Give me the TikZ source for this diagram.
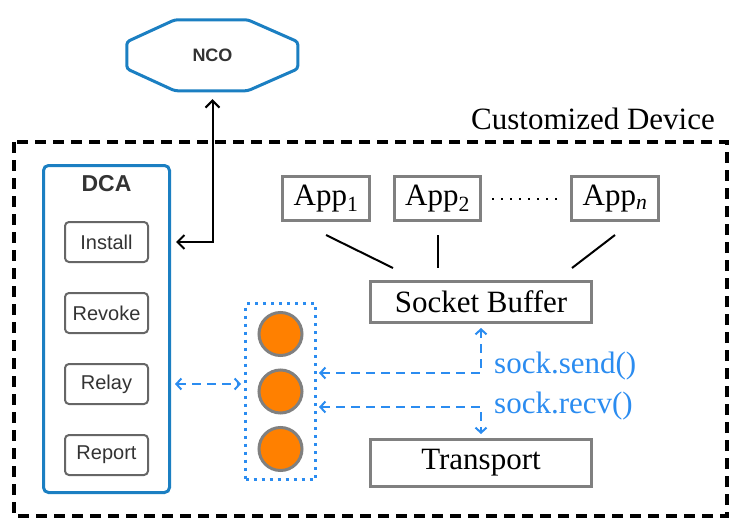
\documentclass[tikz,border=0pt]{standalone}
\usepackage{fontspec}
\setmainfont{Liberation Serif}
\setsansfont{Liberation Sans}
\usetikzlibrary{%
  arrows.meta,%
  positioning%
}
\definecolor{ncoblue}{HTML}{1B7FC2}
\definecolor{linkblue}{HTML}{2B8CF0}
\definecolor{framegray}{HTML}{808080}
\definecolor{subgray}{HTML}{666666}
\definecolor{labelgray}{HTML}{333333}
\definecolor{ballorange}{HTML}{FF8000}
\tikzset{>={Straight Barb[length=7pt,width=14pt]}}

\begin{document}
\begin{tikzpicture}[x=1pt,y=-1pt,
    font=\fontsize{31}{36}\selectfont,
    appbox/.style={draw=framegray,line width=3pt,minimum height=44pt,
      inner xsep=11pt,inner ysep=0pt},
    stackbox/.style={draw=framegray,line width=3pt,minimum width=221pt,
      inner sep=0pt},
    cmdbox/.style={draw=subgray,line width=2pt,rounded corners=4pt,
      minimum width=83pt,minimum height=40pt,inner sep=0pt,text=labelgray,
      font=\sffamily\fontsize{20}{24}\selectfont},
    ball/.style={circle,draw=framegray,fill=ballorange,line width=3pt,
      minimum size=43pt,inner sep=0pt},
    link/.style={linkblue,line width=2pt,dash pattern=on 9pt off 6pt,
      {Straight Barb[length=5pt,width=11pt]}-{Straight Barb[length=5pt,width=11pt]}},
    callout/.style={text=linkblue,anchor=base west,inner sep=0pt}]
  \useasboundingbox (0,0) rectangle (744,532);

  % device frame
  \draw[line width=3.5pt,dash pattern=on 11pt off 7pt] (14,142) rectangle (727,516);
  \node[anchor=base east,inner sep=0pt] (devlabel) at (715,129) {Customized Device};

  % NCO
  \node[minimum width=171pt,minimum height=71pt,inner sep=0pt,text=labelgray,
    font=\sffamily\bfseries\fontsize{18}{22}\selectfont] (nco) at (212.5,55.5) {NCO};
  \draw[ncoblue,line width=3pt,rounded corners=3pt] (nco.north west) ++(48,0)
    -- ++(73,0) -- ++(50,22) -- ++(0,27) -- ++(-50,22) -- ++(-73,0)
    -- ++(-48,-22) -- ++(0,-27) -- cycle;

  % DCA
  \node[draw=ncoblue,line width=3pt,rounded corners=5pt,minimum width=126pt,
    minimum height=327pt,inner sep=0pt] (dca) at (106.5,329) {};
  \node[text=labelgray,font=\sffamily\bfseries\fontsize{23}{27}\selectfont]
    (dcalabel) at (106.5,184) {DCA};
  \node[cmdbox] (install) at (106.5,242) {Install};
  \node[cmdbox] (revoke) at (106.5,313) {Revoke};
  \node[cmdbox] (relay) at (106.5,384) {Relay};
  \node[cmdbox] (report) at (106.5,455) {Report};

  % sockets
  \node[draw=linkblue,line width=3pt,dash pattern=on 3pt off 5pt,
    minimum width=70pt,minimum height=176pt,inner sep=0pt] (pool) at (280.5,391.5) {};
  \node[ball] (s1) at (280.5,334) {};
  \node[ball] (s2) at (280.5,391.5) {};
  \node[ball] (s3) at (280.5,449) {};

  % stack
  \node[appbox] (app1) at (326,198.5) {App\textsubscript{1}};
  \node[appbox] (app2) at (437.5,198.5) {App\textsubscript{2}};
  \node[appbox] (appn) at (615,198.5) {App\textsubscript{\textit{n}}};
  \node[stackbox,minimum height=41pt] (sb) at (481,302) {Socket Buffer};
  \node[stackbox,minimum height=47pt] (tr) at (481,463) {Transport};

  \draw[line width=2pt,dash pattern=on 2pt off 7pt,shorten <=10pt,shorten >=10pt]
    (app2.east) -- (appn.west);
  \draw[line width=2pt] ([yshift=-13pt]app1.south) -- ([xshift=-88pt,yshift=12pt]sb.north);
  \draw[line width=2pt] ([yshift=-13pt]app2.south) -- ([yshift=12pt]app2.south |- sb.north);
  \draw[line width=2pt] ([yshift=-13pt]appn.south) -- ([xshift=91pt,yshift=12pt]sb.north);

  % connectors
  \coordinate (sendc) at (481,373);
  \coordinate (recvc) at (481,407);
  \draw[<->,line width=2pt,shorten <=8pt,shorten >=5pt] (nco.south) |- (dca.east |- install.east);
  \draw[link,shorten <=4pt,shorten >=3pt] (dca.east |- relay) -- (pool.west |- relay);
  \draw[link,shorten <=2pt,shorten >=4pt] (pool.east |- sendc) -| (sb.south);
  \draw[link,shorten <=2pt,shorten >=4pt] (pool.east |- recvc) -| (tr.north);
  \node[callout] (sendlabel) at (494,373) {sock.send()};
  \node[callout] (recvlabel) at (494,413) {sock.recv()};
\end{tikzpicture}
\end{document}
